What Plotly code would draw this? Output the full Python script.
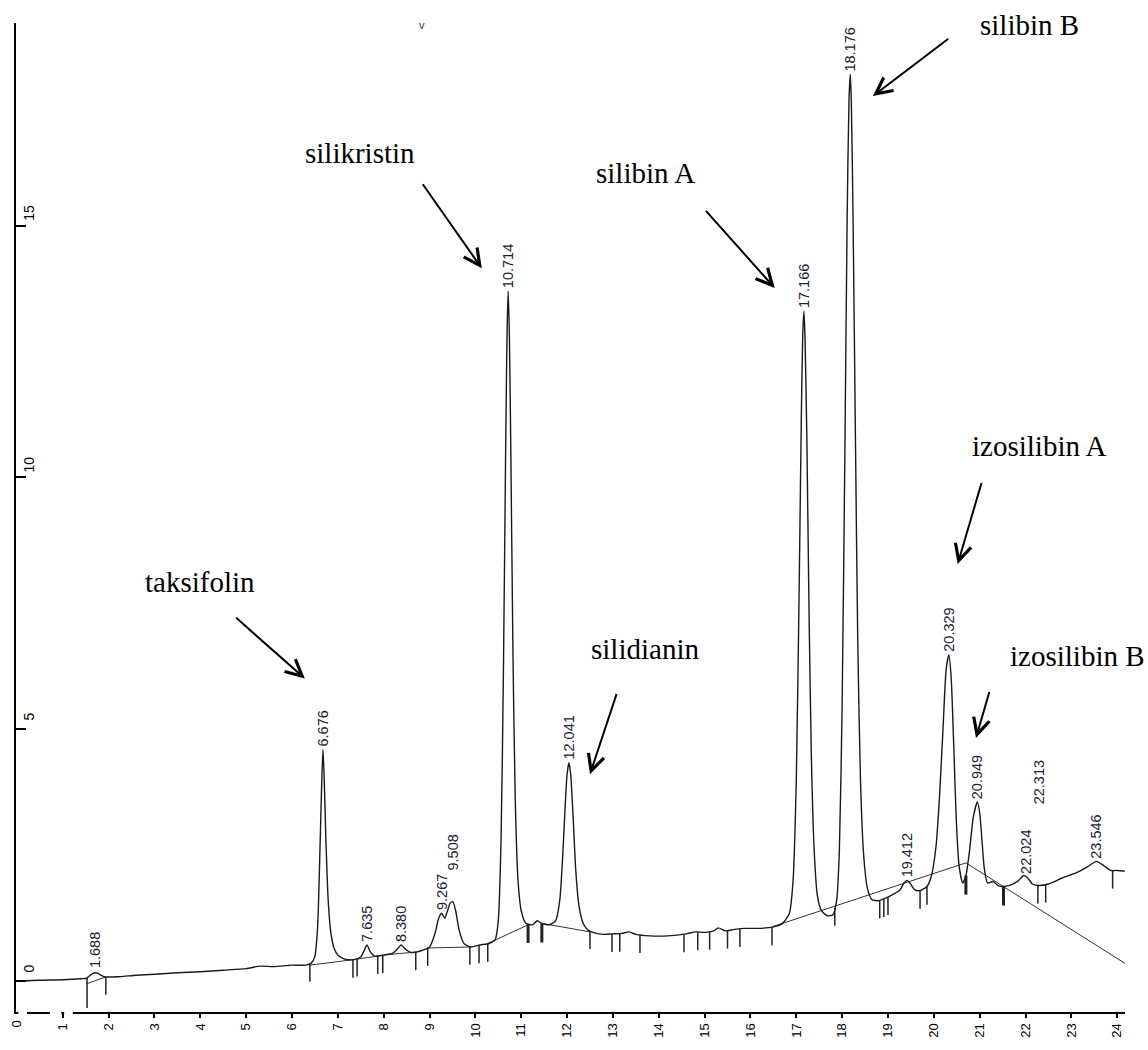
import numpy as np
import plotly.graph_objects as go

# ---------------- data ----------------
time_min = [0.0, 0.5, 1.0, 1.4, 1.52, 1.6, 1.69, 1.78, 1.9, 2.2, 2.6, 3.0, 3.5, 4.0, 4.5, 5.0, 5.3, 5.6, 6.0, 6.3,
            6.42, 6.5, 6.56, 6.61, 6.65, 6.676, 6.70, 6.74, 6.79, 6.85, 6.92, 7.0, 7.15, 7.35, 7.5, 7.57, 7.635, 7.7, 7.8,
            8.0, 8.2, 8.3, 8.38, 8.47, 8.6, 8.8, 9.0, 9.12, 9.2, 9.267, 9.33, 9.4, 9.45, 9.508, 9.57, 9.65, 9.75, 9.9,
            10.1, 10.3, 10.43, 10.5, 10.56, 10.61, 10.66, 10.69, 10.714, 10.74, 10.77, 10.82, 10.87, 10.93, 11.0, 11.1,
            11.25, 11.35, 11.45, 11.6, 11.75, 11.84, 11.9, 11.96, 12.0, 12.041, 12.08, 12.13, 12.19, 12.26, 12.35, 12.45,
            12.6, 12.8, 13.0, 13.2, 13.35, 13.5, 13.8, 14.2, 14.6, 14.8, 15.0, 15.2, 15.3, 15.45, 15.65, 15.9, 16.2, 16.5,
            16.7, 16.85, 16.93, 17.0, 17.06, 17.11, 17.14, 17.166, 17.19, 17.23, 17.28, 17.33, 17.39, 17.46, 17.55, 17.68,
            17.8, 17.88, 17.94, 18.0, 18.06, 18.11, 18.15, 18.176, 18.2, 18.24, 18.29, 18.34, 18.4, 18.47, 18.55, 18.65,
            18.8, 18.95, 19.1, 19.25, 19.35, 19.412, 19.48, 19.58, 19.7, 19.85, 19.95, 20.05, 20.12, 20.2, 20.27, 20.329,
            20.38, 20.43, 20.49, 20.55, 20.63, 20.7, 20.78, 20.86, 20.949, 21.0, 21.05, 21.1, 21.17, 21.29, 21.4, 21.5,
            21.7, 21.85, 21.96, 22.05, 22.15, 22.3, 22.5, 22.8, 23.1, 23.35, 23.546, 23.7, 23.85, 24.0, 24.25]
signal = [0.0, 0.02, 0.03, 0.05, 0.06, 0.12, 0.17, 0.15, 0.09, 0.09, 0.12, 0.14, 0.17, 0.19, 0.22, 0.25, 0.3, 0.29, 0.32, 0.32,
          0.36, 0.5, 1.1, 2.6, 4.0, 4.6, 4.1, 2.8, 1.6, 0.95, 0.65, 0.52, 0.44, 0.43, 0.48, 0.6, 0.72, 0.6, 0.5,
          0.52, 0.56, 0.64, 0.72, 0.64, 0.57, 0.6, 0.68, 0.95, 1.25, 1.35, 1.25, 1.42, 1.55, 1.58, 1.4, 1.0, 0.75, 0.68,
          0.72, 0.75, 0.82, 1.2, 2.8, 6.0, 10.5, 12.8, 13.7, 12.9, 10.8, 6.5, 3.6, 2.0, 1.4, 1.15,
          1.12, 1.2, 1.15, 1.12, 1.2, 1.6, 2.4, 3.5, 4.1, 4.34, 4.1, 3.3, 2.2, 1.5, 1.15, 1.02,
          0.96, 0.93, 0.94, 0.95, 0.98, 0.93, 0.9, 0.9, 0.94, 0.98, 0.97, 1.0, 1.06, 1.0, 1.03, 1.05, 1.05, 1.08,
          1.15, 1.35, 2.0, 4.0, 7.6, 11.2, 12.8, 13.3, 12.8, 10.8, 7.2, 4.4, 2.6, 1.7, 1.4, 1.3,
          1.32, 1.6, 2.6, 5.5, 10.5, 15.2, 17.5, 18.0, 17.5, 15.0, 10.8, 6.8, 4.0, 2.5, 1.85, 1.62,
          1.6, 1.65, 1.72, 1.8, 1.95, 2.0, 1.95, 1.82, 1.8, 1.88, 2.1, 2.7, 3.6, 5.0, 6.2, 6.48,
          6.0, 4.8, 3.2, 2.3, 1.95, 2.1, 2.6, 3.25, 3.56, 3.35, 2.8, 2.25, 1.95, 1.98, 1.9, 1.88,
          1.92, 2.0, 2.1, 2.05, 1.93, 1.9, 1.93, 2.05, 2.15, 2.27, 2.38, 2.3, 2.2, 2.2, 2.18]

peak_rt = [1.688, 6.676, 7.635, 8.380, 9.267, 9.508, 10.714, 12.041, 17.166, 18.176, 19.412, 20.329, 20.949,
           22.024, 22.313, 23.546]
peak_labels = ["1.688", "6.676", "7.635", "8.380", "9.267", "9.508", "10.714", "12.041", "17.166", "18.176",
               "19.412", "20.329", "20.949", "22.024", "22.313", "23.546"]

compounds = ["taksifolin", "silikristin", "silidianin", "silibin A", "silibin B", "izosilibin A", "izosilibin B"]

# integration baseline segments (start time, start value, end time, end value)
bl_t0 = [1.52, 6.39, 7.42, 7.98, 8.96, 10.27, 11.45, 16.47, 20.70]
bl_v0 = [-0.05, 0.32, 0.44, 0.52, 0.66, 0.75, 1.15, 1.08, 2.35]
bl_t1 = [1.92, 7.35, 7.87, 8.70, 9.88, 11.15, 12.50, 20.70, 24.30]
bl_v1 = [0.08, 0.43, 0.50, 0.58, 0.68, 1.12, 0.98, 2.35, 0.28]

# peak start / end markers
mark_t = [1.53, 1.94, 6.39, 7.33, 7.42, 7.87, 7.98, 8.70, 8.96, 9.88, 10.08, 10.27, 12.50, 12.98, 13.15, 13.59,
          14.55, 14.85, 15.11, 15.50, 15.77, 16.47, 17.84, 18.82, 18.91, 19.00, 19.70, 19.85, 22.27, 22.44, 23.90]
mark_thick_t = [11.15, 11.45, 20.70, 21.52]

x_ticks = list(range(0, 25))
y_ticks = [0, 5, 10, 15]

# ---------------- figure ----------------
fig = go.Figure()

# baseline segments
bx, by = [], []
for a, b, c, d in zip(bl_t0, bl_v0, bl_t1, bl_v1):
    bx += [a, c, None]
    by += [b, d, None]
fig.add_trace(go.Scatter(x=bx, y=by, mode="lines", line=dict(color="#333333", width=1), hoverinfo="skip",
                         showlegend=False, cliponaxis=False))

# chromatogram trace
fig.add_trace(go.Scatter(x=time_min, y=signal, mode="lines", line=dict(color="#1a1a1a", width=1.4, shape="spline",
                                                                    smoothing=0.6),
                         showlegend=False))

# peak markers (vertical ticks)
tt = np.array(time_min)
ss = np.array(signal)
mx, my = [], []
for t in mark_t:
    top = float(np.interp(t, tt, ss))
    ln = 0.6 if t < 1.6 else 0.36
    mx += [t, t, None]
    my += [top, top - ln, None]
fig.add_trace(go.Scatter(x=mx, y=my, mode="lines", line=dict(color="#222222", width=1.5), hoverinfo="skip",
                         showlegend=False))
mx2, my2 = [], []
for t in mark_thick_t:
    top = float(np.interp(t, tt, ss))
    mx2 += [t, t, None]
    my2 += [top, top - 0.38, None]
fig.add_trace(go.Scatter(x=mx2, y=my2, mode="lines", line=dict(color="#222222", width=3), hoverinfo="skip",
                         showlegend=False))

annotations = []
# retention time labels
extra_shift = {"9.508": 28, "22.313": 78, "1.688": 2}
for rt, lab in zip(peak_rt, peak_labels):
    yv = float(np.interp(rt, tt, ss))
    annotations.append(dict(x=rt, y=yv, xref="x", yref="y", text=lab, showarrow=False, textangle=-90,
                            xanchor="center", yanchor="bottom", yshift=1 + extra_shift.get(lab, 0),
                            font=dict(family="Liberation Sans, Arial", size=14.5, color="#1c2233")))

# compound names with arrows (text pos, arrow tail, arrow tip) in axis units
name_pos = [(3.99, 7.93), (7.48, 16.44), (13.70, 6.59), (13.70, 16.05), (22.09, 18.98), (22.31, 10.63), (23.14, 6.46)]
arrow_tail = [(4.75, 7.24), (8.83, 15.85), (13.09, 5.73), (15.0, 15.32), (20.35, 18.73), (21.05, 9.92), (21.22, 5.77)]
arrow_tip = [(6.28, 6.01), (10.14, 14.15), (12.5, 4.11), (16.53, 13.76), (18.67, 17.57), (20.52, 8.28), (20.92, 4.83)]
for name, p, a, b in zip(compounds, name_pos, arrow_tail, arrow_tip):
    annotations.append(dict(x=p[0], y=p[1], xref="x", yref="y", text=name, showarrow=False,
                            font=dict(family="Liberation Serif, Times New Roman", size=29, color="black")))
    annotations.append(dict(x=b[0], y=b[1], ax=a[0], ay=a[1], xref="x", yref="y", axref="x", ayref="y", text="",
                            showarrow=True, arrowhead=5, arrowsize=1.6, arrowwidth=2, arrowcolor="black",
                            standoff=0))

# small marker at top
annotations.append(dict(x=8.83, y=18.98, xref="x", yref="y", text="v", showarrow=False,
                        font=dict(family="Liberation Sans, Arial", size=11, color="#2a3a6a")))

# the "0" time label (plotly hides it next to the inside y labels)
annotations.append(dict(x=x_ticks[0], y=0, xref="x", yref="paper", text=str(x_ticks[0]), showarrow=False,
                        textangle=-90, xanchor="center", yanchor="top", yshift=-6,
                        font=dict(family="Liberation Sans, Arial", size=13, color="black")))

# small gaps in the time axis line near the origin (as in the printout)
shapes = [dict(type="line", xref="x", yref="paper", x0=0.03, x1=0.22, y0=0, y1=0,
               line=dict(color="white", width=4), layer="above"),
          dict(type="line", xref="x", yref="paper", x0=0.72, x1=0.97, y0=0, y1=0,
               line=dict(color="white", width=4), layer="above"),
          dict(type="line", xref="x", yref="paper", x0=1.03, x1=1.22, y0=0, y1=0,
               line=dict(color="white", width=4), layer="above")]

fig.update_layout(
    width=1148, height=1050,
    margin=dict(l=16, r=23, t=23, b=24),
    paper_bgcolor="white", plot_bgcolor="white",
    annotations=annotations,
    shapes=shapes,
    xaxis=dict(range=[-0.02, 24.17], tickvals=x_ticks, ticktext=[""] + [str(v) for v in x_ticks[1:]], tickangle=-90,
               ticks="outside", ticklen=4, tickwidth=1.5, tickcolor="black", showline=True, linecolor="black",
               linewidth=2, showgrid=False, zeroline=False, ticklabeloverflow="allow",
               tickfont=dict(family="Liberation Sans, Arial", size=13, color="black")),
    yaxis=dict(range=[-0.61, 19.02], tickvals=y_ticks, ticktext=[str(v) for v in y_ticks], tickangle=-90,
               ticks="inside", ticklen=10, tickwidth=1.5, tickcolor="black", ticklabelposition="inside top",
               showline=True, linecolor="black", linewidth=2, showgrid=False, zeroline=False,
               tickfont=dict(family="Liberation Sans, Arial", size=14, color="black")),
)

fig.write_html("out.html")
